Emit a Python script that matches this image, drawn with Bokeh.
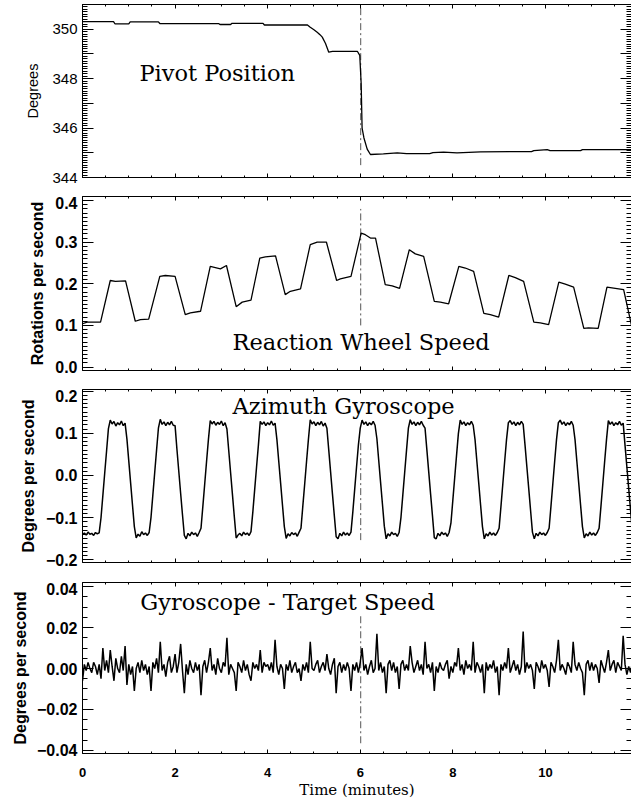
import numpy as np
from bokeh.plotting import figure
from bokeh.models import Range1d, LinearAxis, FixedTicker, Label
from bokeh.layouts import column
from bokeh.embed import file_html
from bokeh.resources import INLINE

# ---------------- data ----------------
# Pivot position (degrees), breakpoints
pivot_t = [0.0, 0.67, 0.70, 1.00, 1.03, 1.64, 1.67, 2.94, 2.97, 3.20,
           3.23, 3.90, 3.93, 4.86, 4.92, 5.00, 5.07, 5.13, 5.18, 5.25,
           5.32, 5.40, 5.94, 5.99, 6.02, 6.04, 6.08, 6.15, 6.22, 6.50,
           6.80, 7.00, 7.50, 7.57, 7.80, 8.09, 8.60, 9.70, 9.75, 10.04,
           10.10, 10.76, 10.80, 11.86]
pivot_deg = [350.31, 350.31, 350.22, 350.22, 350.30, 350.30, 350.23, 350.23, 350.19, 350.19,
             350.24, 350.24, 350.17, 350.17, 350.08, 349.98, 349.88, 349.78, 349.68, 349.42,
             349.07, 349.10, 349.10, 348.94, 347.80, 346.00, 345.60, 345.15, 344.93, 344.96,
             345.00, 344.97, 344.97, 345.01, 345.03, 345.00, 345.04, 345.05, 345.09, 345.13,
             345.09, 345.09, 345.13, 345.13]

# Reaction wheel speed (rotations per second), breakpoints
wheel_t = [0.00, 0.10, 0.39, 0.60, 0.71, 0.93, 1.14, 1.25, 1.43, 1.67, 1.79, 2.00,
           2.22, 2.33, 2.55, 2.76, 2.87, 2.98, 3.11, 3.32, 3.45, 3.64, 3.83, 3.95,
           4.17, 4.38, 4.49, 4.71, 4.92, 5.07, 5.27, 5.49, 5.57, 5.80, 6.02, 6.11,
           6.22, 6.33, 6.54, 6.69, 6.85, 7.06, 7.19, 7.37, 7.60, 7.73, 7.91, 8.13,
           8.27, 8.45, 8.67, 8.81, 8.99, 9.21, 9.35, 9.53, 9.75, 9.89, 10.07, 10.29,
           10.43, 10.61, 10.83, 10.93, 11.14, 11.33, 11.51, 11.69, 11.86]
wheel_rps = [0.104, 0.108, 0.108, 0.208, 0.206, 0.207, 0.110, 0.114, 0.115, 0.218, 0.220, 0.218,
             0.126, 0.130, 0.134, 0.242, 0.239, 0.236, 0.244, 0.145, 0.156, 0.161, 0.262, 0.265,
             0.267, 0.174, 0.182, 0.188, 0.294, 0.300, 0.300, 0.208, 0.212, 0.218, 0.322, 0.318,
             0.310, 0.310, 0.198, 0.195, 0.189, 0.282, 0.272, 0.266, 0.158, 0.156, 0.152, 0.242,
             0.238, 0.230, 0.129, 0.126, 0.120, 0.220, 0.215, 0.206, 0.108, 0.106, 0.102, 0.204,
             0.199, 0.192, 0.093, 0.094, 0.093, 0.192, 0.189, 0.186, 0.100]

# Sampled series: one value every 0.04 minutes, one row per minute
sample_dt_min = 0.04

# Azimuth gyroscope (milli-degrees per second)
gyro_mdps = [
    -140, -136, -141, -134, -139, -137, -142, -135, -138, -136, -100, -47, 6, 58, 111, 131, 122, 128, 117, 125, 120, 129, 118, 124, 86,
    34, -18, -70, -121, -148, -139, -144, -133, -140, -136, -142, -135, -99, -46, 7, 60, 112, 133, 121, 127, 118, 126, 120, 128, 119,
    118, 62, 10, -42, -93, -142, -150, -137, -143, -134, -140, -136, -144, -135, -125, -73, -20, 33, 85, 130, 122, 128, 119, 126, 121,
    129, 118, 125, 110, 58, 6, -46, -98, -148, -141, -137, -143, -134, -140, -136, -142, -133, -86, -33, 20, 72, 128, 121, 127, 118,
    125, 120, 129, 119, 124, 85, 33, -18, -70, -121, -149, -138, -143, -135, -140, -136, -144, -134, -125, -72, -20, 33, 85, 132, 122,
    127, 118, 126, 120, 128, 117, 124, 112, 60, 8, -44, -95, -145, -150, -137, -143, -134, -141, -136, -142, -134, -86, -33, 20, 72,
    112, 131, 121, 127, 118, 125, 120, 128, 119, 87, 35, -17, -68, -120, -150, -138, -143, -134, -140, -137, -144, -135, -99, -46, 7,
    60, 112, 132, 121, 127, 118, 126, 120, 128, 119, 112, 60, 8, -44, -95, -147, -150, -137, -143, -134, -140, -136, -144, -135, -112,
    -59, -6, 47, 99, 131, 121, 127, 118, 125, 120, 128, 119, 85, 33, -18, -70, -121, -150, -138, -143, -134, -141, -136, -142, -135,
    -125, -73, -20, 33, 85, 125, 130, 121, 127, 118, 126, 120, 128, 121, 72, 20, -31, -83, -134, -150, -137, -143, -134, -140, -136,
    -142, -135, -125, -73, -20, 33, 85, 125, 131, 121, 127, 118, 125, 120, 128, 119, 85, 33, -18, -70, -121, -148, -138, -143, -134,
    -141, -136, -142, -135, -125, -73, -20, 33, 85, 130, 121, 127, 118, 125, 120, 128, 119, 124, 72, 20, -31, -83, -134, -148, -138,
]

# Gyroscope minus target speed (milli-degrees per second)
error_mdps = [
    -6, 2, -1, 3, 0, -2, 3, 1, -3, 2, -5, 10, -1, 4, -2, 9, 1, -6, 5, 0, -2, 6, -1, 11, -8,
    2, -3, 1, -11, 0, 3, -2, 4, -1, 2, -3, 1, -11, 3, 0, 5, -2, 13, -1, 2, -4, 3, 6, -2, 1,
    7, -2, 3, 12, -1, -12, 2, -3, 4, 0, -2, 3, -1, 2, -13, 1, 4, -2, 3, 10, -1, 2, -3, 5, 0,
    -2, 3, 1, 15, -3, 2, 0, -2, -11, 3, 1, -2, 4, -1, 2, -3, -6, 3, 0, 2, -1, 9, -2, 3, 1,
    2, -1, 3, -2, 14, 1, -3, 2, 0, -10, 2, -1, 4, -2, 1, 3, -2, 0, -6, 2, -1, 3, -2, 13, 0,
    -1, 2, 4, -2, 1, 3, -1, 7, 0, -3, 2, 5, -12, 1, 3, -2, 2, -1, 3, 0, -11, 2, -1, 3, -2,
    3, 10, -1, 2, -3, 1, 4, -2, 0, 17, -1, 3, -2, 1, -12, 2, 4, -1, 3, -2, 1, -10, 2, 4, -1,
    2, -1, 11, 3, -2, 1, 4, -1, 2, -3, 13, 0, 2, -2, 3, -11, 1, -2, 3, 0, -1, 2, 4, -5, 1,
    -2, 3, 1, 10, -1, 2, -3, 4, 0, 2, -1, 13, -2, 3, 1, -2, 2, -12, 3, -1, 2, 0, 4, -2, 1,
    -13, 2, -1, 3, 0, 10, -2, 1, 4, -1, 2, -3, 1, 18, -2, 3, 0, 2, -1, -10, 3, 1, -2, 4, 0,
    2, -1, -9, 3, 1, -2, 4, 14, -1, 2, 0, -3, 3, 1, -2, 13, 2, -1, 3, 0, -2, -13, 2, 4, -1,
    3, -1, 2, 0, -7, 4, 1, -2, 3, 9, -1, 2, 4, -2, 3, 1, -1, 16, 2, -3, 1, -2, 3, 0, -8,
]

# Event marker (dash-dot line) and its extent in each panel
event_time = 6.01
event_span_pivot = [344.5, 350.95]
event_span_wheel = [0.10, 0.38]
event_span_gyro = [-0.153, 0.083]
event_span_error = [-0.0365, 0.0268]

# Tick labels
x_ticks = [0, 2, 4, 6, 8, 10]
x_tick_labels = ["0", "2", "4", "6", "8", "10"]
pivot_ticks = [344, 345, 346, 347, 348, 349, 350]
pivot_tick_labels = ["344", "", "346", "", "348", "", "350"]
wheel_ticks = [0.0, 0.1, 0.2, 0.3, 0.4]
wheel_tick_labels = ["0.0", "0.1", "0.2", "0.3", "0.4"]
gyro_ticks = [-0.2, -0.1, 0.0, 0.1, 0.2]
gyro_tick_labels = ["\u22120.2", "\u22120.1", "0.0", "0.1", "0.2"]
error_ticks = [-0.04, -0.02, 0.0, 0.02, 0.04]
error_tick_labels = ["\u22120.04", "\u22120.02", "0.00", "0.02", "0.04"]

titles = ["Pivot Position", "Reaction Wheel Speed", "Azimuth Gyroscope", "Gyroscope - Target Speed"]
y_labels = ["Degrees", "Rotations per second", "Degrees per second", "Degrees per second"]
x_label = "Time (minutes)"

# ---------------- derived ----------------
sample_t = np.arange(len(gyro_mdps)) * sample_dt_min
gyro_dps = np.array(gyro_mdps) / 1000.0
error_dps = np.array(error_mdps) / 1000.0

X_END = 11.86
W = 631
SANS = "Liberation Sans"
SERIF = "DejaVu Serif"

x_minor = list(np.round(np.arange(0, 12.01, 0.5), 3))


def build(height, top_border, y_lo, y_hi, yt, ylab, yminor, ylabel_text, bottom_border,
          show_x_labels, tick_font_size, tick_style, label_font_size, label_style,
          label_standoff):
    p = figure(width=W, height=height, x_range=Range1d(0, X_END), y_range=Range1d(y_lo, y_hi),
               output_backend="svg", toolbar_location=None,
               min_border_left=82, min_border_right=0, min_border_top=top_border,
               min_border_bottom=bottom_border,
               background_fill_color="white", border_fill_color="white")
    p.outline_line_color = None
    p.xgrid.visible = False
    p.ygrid.visible = False

    xt = FixedTicker(ticks=x_ticks, minor_ticks=x_minor)
    ytk = FixedTicker(ticks=yt, minor_ticks=yminor)

    def style(ax, ticker, maj, mino):
        ax.ticker = ticker
        ax.major_tick_in = maj
        ax.major_tick_out = 0
        ax.minor_tick_in = mino
        ax.minor_tick_out = 0
        ax.axis_line_color = "black"
        ax.major_tick_line_color = "black"
        ax.minor_tick_line_color = "black"
        ax.axis_line_width = 1

    def hide_labels(ax, ticks):
        ax.major_label_overrides = {t: "" for t in ticks}
        ax.major_label_text_font_size = "0px"
        ax.major_label_standoff = 0
        ax.axis_label = None

    # bottom
    bx = p.xaxis[0]
    style(bx, xt, 4, 2)
    if show_x_labels:
        bx.major_label_overrides = {t: s for t, s in zip(x_ticks, x_tick_labels)}
        bx.major_label_text_font = SANS
        bx.major_label_text_font_size = "13px"
        bx.major_label_text_font_style = "bold"
        bx.major_label_text_color = "black"
        bx.major_label_standoff = 14
        bx.axis_label = x_label
        bx.axis_label_text_font = SERIF
        bx.axis_label_text_font_size = "15px"
        bx.axis_label_text_font_style = "normal"
        bx.axis_label_text_color = "black"
        bx.axis_label_standoff = 1
    else:
        hide_labels(bx, x_ticks)

    # left
    ly = p.yaxis[0]
    style(ly, ytk, 11, 5)
    ly.major_label_overrides = {t: s for t, s in zip(yt, ylab)}
    ly.major_label_text_font = SANS
    ly.major_label_text_font_size = tick_font_size
    ly.major_label_text_font_style = tick_style
    ly.major_label_text_color = "black"
    ly.major_label_standoff = 5
    ly.axis_label = ylabel_text
    ly.axis_label_text_font = SANS
    ly.axis_label_text_font_size = label_font_size
    ly.axis_label_text_font_style = label_style
    ly.axis_label_text_color = "black"
    ly.axis_label_standoff = label_standoff

    # top and right (right edge of the box falls on the page edge)
    tx = LinearAxis()
    style(tx, FixedTicker(ticks=x_ticks, minor_ticks=x_minor), 4, 2)
    hide_labels(tx, x_ticks)
    p.add_layout(tx, "above")
    ry = LinearAxis()
    style(ry, FixedTicker(ticks=yt, minor_ticks=yminor), 11, 5)
    ry.axis_line_color = None
    hide_labels(ry, yt)
    p.add_layout(ry, "right")
    return p


def title(p, x, y, text):
    p.add_layout(Label(x=x, y=y, text=text, text_font=SERIF, text_font_size="22.5px",
                       text_color="black", text_baseline="alphabetic", text_align="left"))


dash = "7 3 2 3"
DATA_W = 1.3

# Panel 1
p1 = build(196, 4, 344.0, 351.0, pivot_ticks, pivot_tick_labels,
           list(np.round(np.arange(344, 351.01, 0.1), 2)), y_labels[0], 19,
           False, "15px", "normal", "14.5px", "normal", 8)
p1.line([event_time, event_time], event_span_pivot, line_color="#555555", line_width=1, line_dash=dash)
p1.line(pivot_t, pivot_deg, line_color="black", line_width=DATA_W)
title(p1, 1.23, 348.21, titles[0])

# Panel 2
p2 = build(193, 0, -0.0084, 0.4099, wheel_ticks, wheel_tick_labels,
           list(np.round(np.arange(-0.01, 0.411, 0.01), 3)), y_labels[1], 19,
           False, "16px", "bold", "16px", "bold", 6)
p2.line([event_time, event_time], event_span_wheel, line_color="#555555", line_width=1, line_dash=dash)
p2.line(wheel_t, wheel_rps, line_color="black", line_width=DATA_W)
title(p2, 3.24, 0.0613, titles[1])

# Panel 3
p3 = build(193, 0, -0.206, 0.2036, gyro_ticks, gyro_tick_labels,
           list(np.round(np.arange(-0.2, 0.2001, 0.01), 3)), y_labels[2], 20,
           False, "16px", "bold", "16px", "bold", 6)
p3.line([event_time, event_time], event_span_gyro, line_color="#555555", line_width=1, line_dash=dash)
p3.line(sample_t, gyro_dps, line_color="black", line_width=1.5)
title(p3, 3.24, 0.1656, titles[2])

# Panel 4
p4 = build(219, 0, -0.0415, 0.042, error_ticks, error_tick_labels,
           list(np.round(np.arange(-0.04, 0.04001, 0.005), 4)), y_labels[3], 30,
           True, "16px", "bold", "16px", "bold", 5)
p4.line([event_time, event_time], event_span_error, line_color="#555555", line_width=1, line_dash=dash)
p4.line(sample_t, error_dps, line_color="black", line_width=1.5)
title(p4, 1.25, 0.0327, titles[3])

layout = column(p1, p2, p3, p4, spacing=0)
open("out.html", "w").write(file_html(layout, INLINE))
